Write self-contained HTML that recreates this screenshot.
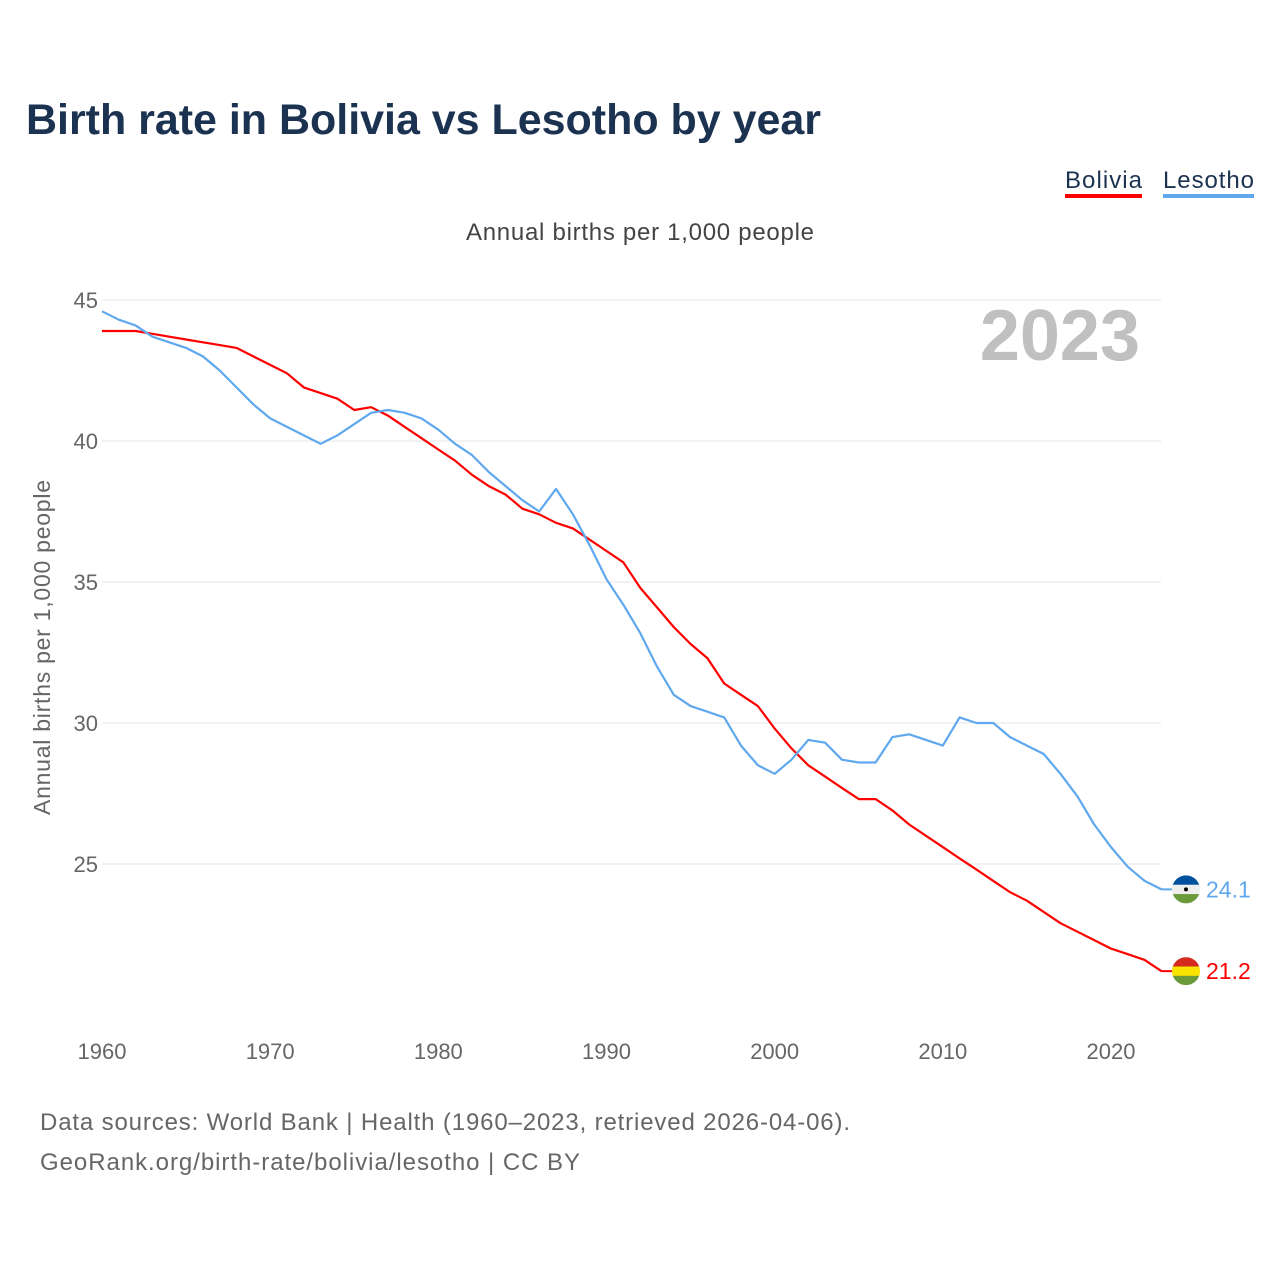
<!DOCTYPE html>
<html><head><meta charset="utf-8"><style>
body{margin:0;background:#fff;font-family:"Liberation Sans",sans-serif;}
#wrap{position:relative;width:1280px;height:1280px;overflow:hidden;}
</style></head><body>
<div id="wrap">
<svg id="chart" width="1280" height="1280" xmlns="http://www.w3.org/2000/svg">
<text x="26" y="134" font-size="43" font-weight="bold" fill="#1b3251" textLength="795">Birth rate in Bolivia vs Lesotho by year</text>
<g>
<text x="1065" y="188" font-size="24" fill="#1b3251" textLength="77">Bolivia</text>
<rect x="1065" y="194" width="77" height="4" fill="#ff0000"/>
<text x="1163" y="188" font-size="24" fill="#1b3251" textLength="91">Lesotho</text>
<rect x="1163" y="194" width="91" height="4" fill="#5fa8ee"/>
</g>
<text x="466" y="240" font-size="24" fill="#444" textLength="348">Annual births per 1,000 people</text>
<text x="1140" y="360" font-size="72" font-weight="bold" fill="#c0c0c0" text-anchor="end">2023</text>
<text transform="translate(50,815) rotate(-90)" font-size="23" fill="#666" textLength="335">Annual births per 1,000 people</text>
<g id="grid"></g><g id="xt"></g><g id="lines"></g>
<text x="40" y="1130" font-size="24" fill="#666" textLength="810">Data sources: World Bank | Health (1960–2023, retrieved 2026-04-06).</text>
<text x="40" y="1170" font-size="24" fill="#666" textLength="540">GeoRank.org/birth-rate/bolivia/lesotho | CC BY</text>
</svg>
</div>
<script>
const years=[];for(let y=1960;y<=2023;y++)years.push(y);
const yTicks=[25,30,35,40,45];
const xTicks=[1960,1970,1980,1990,2000,2010,2020];
const bolivia=[43.9,43.9,43.9,43.8,43.7,43.6,43.5,43.4,43.3,43.0,42.7,42.4,41.9,41.7,41.5,41.1,41.2,40.9,40.5,40.1,39.7,39.3,38.8,38.4,38.1,37.6,37.4,37.1,36.9,36.5,36.1,35.7,34.8,34.1,33.4,32.8,32.3,31.4,31.0,30.6,29.8,29.1,28.5,28.1,27.7,27.3,27.3,26.9,26.4,26.0,25.6,25.2,24.8,24.4,24.0,23.7,23.3,22.9,22.6,22.3,22.0,21.8,21.6,21.2];
const lesotho=[44.6,44.3,44.1,43.7,43.5,43.3,43.0,42.5,41.9,41.3,40.8,40.5,40.2,39.9,40.2,40.6,41.0,41.1,41.0,40.8,40.4,39.9,39.5,38.9,38.4,37.9,37.5,38.3,37.4,36.3,35.1,34.2,33.2,32.0,31.0,30.6,30.4,30.2,29.2,28.5,28.2,28.7,29.4,29.3,28.7,28.6,28.6,29.5,29.6,29.4,29.2,30.2,30.0,30.0,29.5,29.2,28.9,28.2,27.4,26.4,25.6,24.9,24.4,24.1];
const X=y=>102+(y-1960)*1009/60;
const Y=v=>300+(45-v)*28.2;
const NS="http://www.w3.org/2000/svg";
function mk(t,a,p){const e=document.createElementNS(NS,t);for(const k in a)e.setAttribute(k,a[k]);p.appendChild(e);return e;}
const grid=document.getElementById('grid'),xt=document.getElementById('xt'),lines=document.getElementById('lines');
yTicks.forEach(v=>{
 const l=mk('line',{x1:102,x2:1161,y1:Y(v),y2:Y(v),stroke:'#e6e6e6','stroke-width':1},grid);
 
 
 const t=mk('text',{x:98,y:Y(v)+8,'font-size':22,fill:'#666','text-anchor':'end'},grid);t.textContent=v;
 
 
});
xTicks.forEach(v=>{
 const t=mk('text',{x:X(v),y:1059,'font-size':22,fill:'#666','text-anchor':'middle'},xt);t.textContent=v;
 
 
});
function series(data,color,name,flag){
 const d=data.map((v,i)=>(i?'L':'M')+X(years[i]).toFixed(1)+' '+Y(v).toFixed(1)).join(' ');
 const p=mk('path',{d:d,fill:'none',stroke:color,'stroke-width':2.2,'stroke-linejoin':'round'},lines);
 
 
 const last=data[data.length-1],ly=Y(last),lx=X(2023);
 mk('line',{x1:lx,x2:lx+12,y1:ly,y2:ly,stroke:color,'stroke-width':2},lines);
 const g=mk('g',{},lines);
 
 
 const cx=1186,r=14;
 const cp='cp'+name;
 const c=mk('clipPath',{id:cp},g);mk('circle',{cx:cx,cy:ly,r:r},c);
 flag.forEach((col,i)=>mk('rect',{x:cx-r,y:ly-r+i*2*r/3,width:2*r,height:2*r/3+0.5,fill:col,'clip-path':'url(#'+cp+')'},g));
 if(name==='lesotho')mk('circle',{cx:cx,cy:ly,r:2,fill:'#000'},g);
 const t=mk('text',{x:1206,y:ly+8,'font-size':23,fill:color},lines);t.textContent=last.toFixed(1);
 
 
}
series(bolivia,'#ff0000','bolivia',['#d52b1e','#f9e300','#6a9a3a']);
series(lesotho,'#5fa8ee','lesotho',['#00509e','#eeeeee','#6a9a3a']);
</script>
</body></html>
